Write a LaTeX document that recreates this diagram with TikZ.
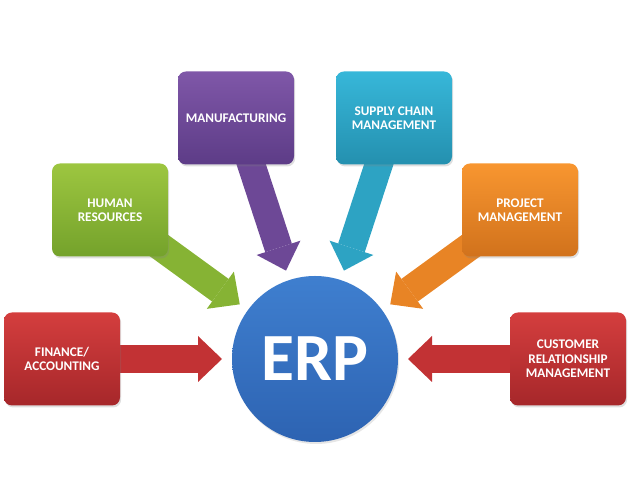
\documentclass[tikz,border=0pt]{standalone}
\usepackage{fontspec}
\setmainfont{Carlito}
\usetikzlibrary{arrows.meta,backgrounds,shadows}
\definecolor{redtop}{HTML}{D43E3E}
\definecolor{redbot}{HTML}{A6272A}
\definecolor{redmid}{HTML}{C23234}
\definecolor{greentop}{HTML}{9DC640}
\definecolor{greenbot}{HTML}{74A22B}
\definecolor{greenmid}{HTML}{86B334}
\definecolor{purpletop}{HTML}{7F57A8}
\definecolor{purplebot}{HTML}{5D3C87}
\definecolor{purplemid}{HTML}{6D4896}
\definecolor{tealtop}{HTML}{37B7D9}
\definecolor{tealbot}{HTML}{2490AF}
\definecolor{tealmid}{HTML}{2DA3C3}
\definecolor{orangetop}{HTML}{F89630}
\definecolor{orangebot}{HTML}{D1721C}
\definecolor{orangemid}{HTML}{E88425}
\definecolor{hubtop}{HTML}{3F7FCF}
\definecolor{hubbot}{HTML}{2D63B2}
\tikzstyle{modbox} = [rounded corners=0.2cm, minimum width=2.9cm, minimum height=2.325cm, align=center, text=white, font=\fontsize{9.4}{10.2}\selectfont\bfseries, drop shadow={opacity=0.25, shadow xshift=0.03cm, shadow yshift=-0.05cm}]
\tikzstyle{hub} = [circle, minimum size=4.15cm, inner sep=0, outer sep=0.25cm, top color=hubtop, bottom color=hubbot, text=white, font=\fontsize{48}{48}\selectfont\bfseries, drop shadow={opacity=0.2, shadow xshift=0.03cm, shadow yshift=-0.05cm}]
\tikzstyle{feed} = [line width=0.7cm, -{Triangle[width=1.15cm, length=0.6cm, line width=0pt]}]

\begin{document}
\begin{tikzpicture}
    \useasboundingbox (0,0) rectangle (15.75,12.275);
    \node [hub] (erp) at (7.875,3.3) {ERP};

    \node [modbox, top color=redtop, bottom color=redbot] (fin) at (1.55,3.3) {FINANCE/\\ACCOUNTING};
    \node [modbox, top color=greentop, bottom color=greenbot] (hr) at (2.75,7.025) {HUMAN\\RESOURCES};
    \node [modbox, top color=purpletop, bottom color=purplebot] (mfg) at (5.9,9.325) {MANUFACTURING};
    \node [modbox, top color=tealtop, bottom color=tealbot] (scm) at (9.85,9.325) {SUPPLY CHAIN\\MANAGEMENT};
    \node [modbox, top color=orangetop, bottom color=orangebot] (pm) at (13.0,7.025) {PROJECT\\MANAGEMENT};
    \node [modbox, top color=redtop, bottom color=redbot] (crm) at (14.2,3.3) {CUSTOMER\\RELATIONSHIP\\MANAGEMENT};

    \begin{scope}[on background layer]
    \draw [feed, redmid] (fin.center) -- (erp);
    \draw [feed, greenmid] (hr.center) -- (erp);
    \draw [feed, purplemid] (mfg.center) -- (erp);
    \draw [feed, tealmid] (scm.center) -- (erp);
    \draw [feed, orangemid] (pm.center) -- (erp);
    \draw [feed, redmid] (crm.center) -- (erp);
    \end{scope}
\end{tikzpicture}
\end{document}
